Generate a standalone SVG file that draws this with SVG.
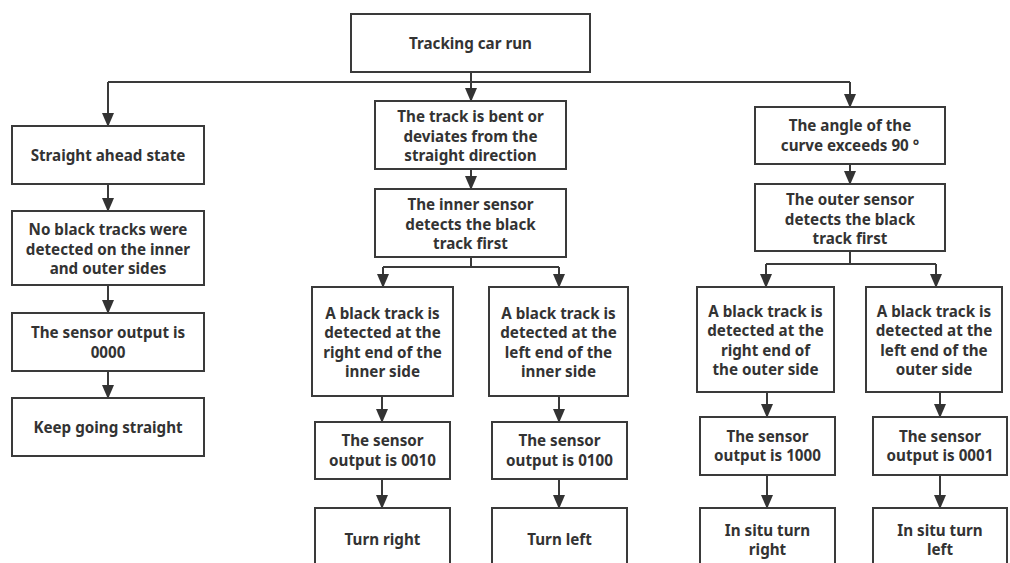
<svg xmlns="http://www.w3.org/2000/svg" width="1010" height="563" viewBox="0 0 1010 563">
<defs>
<marker id="ah" markerUnits="userSpaceOnUse" markerWidth="14" markerHeight="12" refX="13" refY="6" orient="auto" viewBox="0 0 14 12">
<path d="M0,0 L14,6 L0,12 Z" fill="#333"/>
</marker>
<style>
rect.b{fill:#fff;stroke:#3a3a3a;stroke-width:2}
text{font-family:"Noto Sans","Open Sans","Liberation Sans",sans-serif;font-weight:bold;font-size:15.2px;fill:#333;text-anchor:middle}
.c path{fill:none;stroke:#3a3a3a;stroke-width:2}
</style>
</defs>
<rect width="1010" height="563" fill="#fff"/>
<g class="c" id="connectors">
<path d="M471,72 V101" marker-end="url(#ah)"/>
<path d="M108,82 H850"/>
<path d="M108,82 V126" marker-end="url(#ah)"/>
<path d="M850,82 V107" marker-end="url(#ah)"/>
<path d="M108,184 V211" marker-end="url(#ah)"/>
<path d="M108,285 V313" marker-end="url(#ah)"/>
<path d="M108,371 V398" marker-end="url(#ah)"/>
<path d="M471,169 V189" marker-end="url(#ah)"/>
<path d="M471,257 V267 M383,267 H559"/>
<path d="M383,267 V287" marker-end="url(#ah)"/>
<path d="M559,267 V287" marker-end="url(#ah)"/>
<path d="M382,396 V422" marker-end="url(#ah)"/>
<path d="M382,479 V508" marker-end="url(#ah)"/>
<path d="M559,396 V422" marker-end="url(#ah)"/>
<path d="M559,479 V508" marker-end="url(#ah)"/>
<path d="M850,164 V184" marker-end="url(#ah)"/>
<path d="M850,251 V264 M766,264 H936"/>
<path d="M766,264 V287" marker-end="url(#ah)"/>
<path d="M936,264 V287" marker-end="url(#ah)"/>
<path d="M767,392 V417" marker-end="url(#ah)"/>
<path d="M767,475 V508" marker-end="url(#ah)"/>
<path d="M940,392 V417" marker-end="url(#ah)"/>
<path d="M940,475 V508" marker-end="url(#ah)"/>
</g>
<g id="n_root"><rect class="b" x="351" y="14" width="239" height="58"/><text x="470.5" y="49">Tracking car run</text></g>
<g id="n_straight"><rect class="b" x="12" y="126" width="192" height="58"/><text x="108" y="161">Straight ahead state</text></g>
<g id="n_nodetect"><rect class="b" x="12" y="211" width="192" height="74"/><text x="108" y="235"><tspan x="108">No black tracks were</tspan><tspan x="108" dy="19.5">detected on the inner</tspan><tspan x="108" dy="19.5">and outer sides</tspan></text></g>
<g id="n_out0000"><rect class="b" x="12" y="313" width="192" height="58"/><text x="108" y="338"><tspan x="108">The sensor output is</tspan><tspan x="108" dy="19.5">0000</tspan></text></g>
<g id="n_keep"><rect class="b" x="12" y="398" width="192" height="58"/><text x="108" y="433">Keep going straight</text></g>
<g id="n_bent"><rect class="b" x="375" y="101" width="191" height="68"/><text x="470.5" y="122"><tspan x="470.5">The track is bent or</tspan><tspan x="470.5" dy="19.5">deviates from the</tspan><tspan x="470.5" dy="19.5">straight direction</tspan></text></g>
<g id="n_inner"><rect class="b" x="375" y="189" width="191" height="68"/><text x="470.5" y="210"><tspan x="470.5">The inner sensor</tspan><tspan x="470.5" dy="19.5">detects the black</tspan><tspan x="470.5" dy="19.5">track first</tspan></text></g>
<g id="n_inR"><rect class="b" x="312" y="287" width="141" height="109"/><text x="382.5" y="318.5"><tspan x="382.5">A black track is</tspan><tspan x="382.5" dy="19.5">detected at the</tspan><tspan x="382.5" dy="19.5">right end of the</tspan><tspan x="382.5" dy="19.5">inner side</tspan></text></g>
<g id="n_inL"><rect class="b" x="489" y="287" width="139" height="109"/><text x="558.5" y="318.5"><tspan x="558.5">A black track is</tspan><tspan x="558.5" dy="19.5">detected at the</tspan><tspan x="558.5" dy="19.5">left end of the</tspan><tspan x="558.5" dy="19.5">inner side</tspan></text></g>
<g id="n_o0010"><rect class="b" x="315" y="422" width="135" height="57"/><text x="382.5" y="446"><tspan x="382.5">The sensor</tspan><tspan x="382.5" dy="19.5">output is 0010</tspan></text></g>
<g id="n_o0100"><rect class="b" x="492" y="422" width="135" height="57"/><text x="559.5" y="446"><tspan x="559.5">The sensor</tspan><tspan x="559.5" dy="19.5">output is 0100</tspan></text></g>
<g id="n_tr"><rect class="b" x="315" y="508" width="135" height="62"/><text x="382.5" y="545">Turn right</text></g>
<g id="n_tl"><rect class="b" x="492" y="508" width="135" height="62"/><text x="559.5" y="545">Turn left</text></g>
<g id="n_angle"><rect class="b" x="755" y="107" width="190" height="57"/><text x="850" y="131"><tspan x="850">The angle of the</tspan><tspan x="850" dy="19.5">curve exceeds 90 °</tspan></text></g>
<g id="n_outer"><rect class="b" x="755" y="184" width="190" height="67"/><text x="850" y="205"><tspan x="850">The outer sensor</tspan><tspan x="850" dy="19.5">detects the black</tspan><tspan x="850" dy="19.5">track first</tspan></text></g>
<g id="n_outR"><rect class="b" x="697" y="287" width="137" height="105"/><text x="765.5" y="316.5"><tspan x="765.5">A black track is</tspan><tspan x="765.5" dy="19.5">detected at the</tspan><tspan x="765.5" dy="19.5">right end of</tspan><tspan x="765.5" dy="19.5">the outer side</tspan></text></g>
<g id="n_outL"><rect class="b" x="866" y="287" width="136" height="105"/><text x="934" y="316.5"><tspan x="934">A black track is</tspan><tspan x="934" dy="19.5">detected at the</tspan><tspan x="934" dy="19.5">left end of the</tspan><tspan x="934" dy="19.5">outer side</tspan></text></g>
<g id="n_o1000"><rect class="b" x="700" y="417" width="135" height="58"/><text x="767.5" y="441.5"><tspan x="767.5">The sensor</tspan><tspan x="767.5" dy="19.5">output is 1000</tspan></text></g>
<g id="n_o0001"><rect class="b" x="873" y="417" width="134" height="58"/><text x="940" y="441.5"><tspan x="940">The sensor</tspan><tspan x="940" dy="19.5">output is 0001</tspan></text></g>
<g id="n_isr"><rect class="b" x="700" y="508" width="135" height="62"/><text x="767.5" y="535.5"><tspan x="767.5">In situ turn</tspan><tspan x="767.5" dy="19.5">right</tspan></text></g>
<g id="n_isl"><rect class="b" x="873" y="508" width="134" height="62"/><text x="940" y="535.5"><tspan x="940">In situ turn</tspan><tspan x="940" dy="19.5">left</tspan></text></g>
</svg>
